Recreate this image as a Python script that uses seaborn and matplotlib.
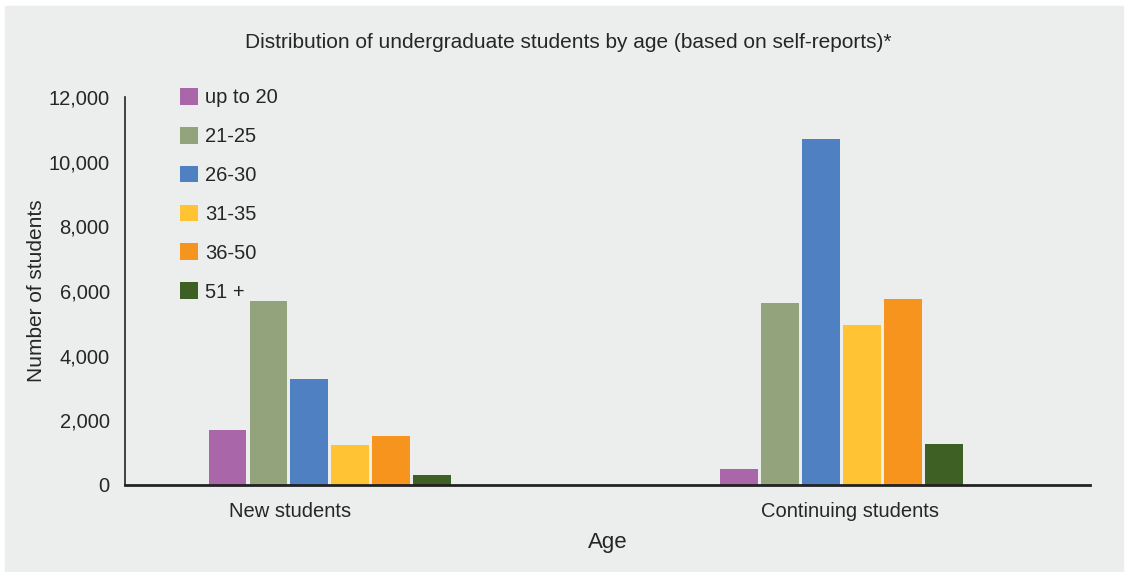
#!/usr/bin/env python3
import matplotlib
matplotlib.use('Agg')
import matplotlib.pyplot as plt
import matplotlib.transforms as mtransforms
import seaborn as sns
import pandas as pd

GROUPS = ['New students', 'Continuing students']
AGES = ['up to 20', '21-25', '26-30', '31-35', '36-50', '51 +']
NEW = [1700, 5700, 3280, 1240, 1520, 310]
CONTINUING = [500, 5640, 10710, 4960, 5760, 1270]
COLORS = ['#a967aa', '#93a37c', '#4f81c2', '#ffc333', '#f7941e', '#3f6024']
YTICKS = [0, 2000, 4000, 6000, 8000, 10000, 12000]

BG = '#eceeed'
FONT = ['Liberation Sans', 'DejaVu Sans']

rows = []
for grp, vals in zip(GROUPS, [NEW, CONTINUING]):
    for age, v in zip(AGES, vals):
        rows.append({'group': grp, 'age': age, 'students': v})
df = pd.DataFrame(rows)

sns.set_style('white')
plt.rcParams['font.family'] = FONT

fig = plt.figure(figsize=(11.29, 5.72), dpi=100)
fig.patch.set_facecolor('white')
# grey panel with thin white margin
fig.add_artist(plt.Rectangle((5 / 1129, 0), 1 - 11 / 1129, 1 - 6 / 572,
                             transform=fig.transFigure, color=BG, zorder=-10))
ax = fig.add_axes([125 / 1129, 1 - 485 / 572, 965 / 1129, 388 / 572])
ax.set_facecolor(BG)

sns.barplot(data=df, x='group', y='students', hue='age', order=GROUPS,
            hue_order=AGES, palette=COLORS, width=0.48, gap=0.08,
            saturation=1, linewidth=0, ax=ax)

ax.set_xlim(-0.40, 1.485)
ax.set_ylim(0, 12000)
ax.set_yticks(YTICKS)
ax.set_yticklabels([f'{t:,}' for t in YTICKS], fontsize=14.5)
ax.tick_params(axis='y', direction='in', length=10, width=1.2, color='#222222', pad=11)
ax.set_xticks([0, 1])
ax.set_xticklabels(GROUPS, fontsize=14.5)
ax.set_xticks([0.505, 1.485], minor=True)
ax.tick_params(axis='x', which='major', length=0, pad=12)
ax.tick_params(axis='x', which='minor', direction='in', length=9, width=1.5, color='#222222')

# category labels in the original sit a bit off the bar groups
for lab, dx in zip(ax.get_xticklabels(), [-40, 8]):
    lab.set_transform(lab.get_transform() +
                      mtransforms.ScaledTranslation(dx / 100, 0, fig.dpi_scale_trans))

for s in ['top', 'right']:
    ax.spines[s].set_visible(False)
for s in ['left', 'bottom']:
    ax.spines[s].set_color('#222222')
ax.spines['left'].set_linewidth(1.2)
ax.spines['bottom'].set_linewidth(2)

ax.set_xlabel('Age', fontsize=16, labelpad=8)
ax.set_ylabel('Number of students', fontsize=15, labelpad=2)
fig.text(568 / 1129, 1 - 42 / 572, 'Distribution of undergraduate students by age (based on self-reports)*',
         ha='center', va='center', fontsize=15, family=FONT)

leg = ax.legend(loc='upper left', bbox_to_anchor=(172 / 1129, 1 - 80 / 572),
                bbox_transform=fig.transFigure, frameon=False, fontsize=14.5,
                handlelength=0.9, handleheight=0.9, labelspacing=0.97,
                handletextpad=0.35, borderaxespad=0, title=None)

fig.savefig('out.png', dpi=100, facecolor=fig.get_facecolor())
